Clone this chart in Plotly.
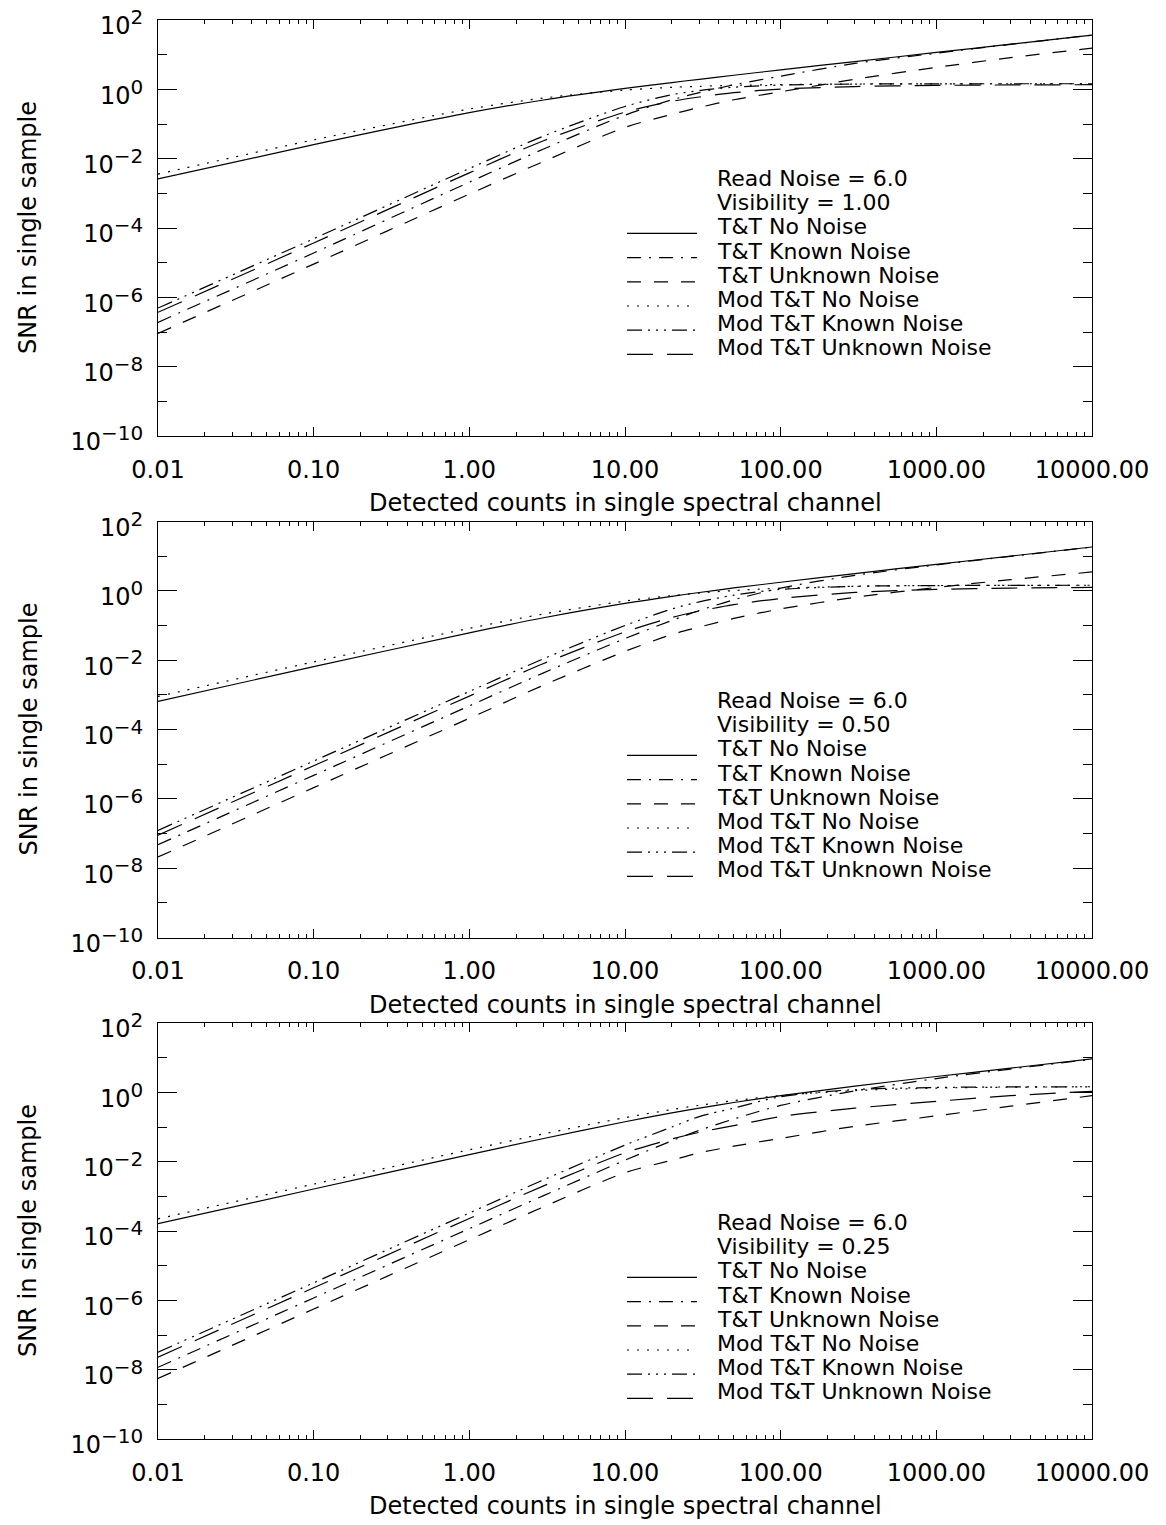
import plotly.graph_objects as go

# ---------------- data ----------------
counts = [0.01, 0.1, 1, 3, 10, 20, 30, 50, 100, 300, 1000, 3000, 10000]

series_names = ["T&T No Noise", "T&T Known Noise", "T&T Unknown Noise",
                "Mod T&T No Noise", "Mod T&T Known Noise", "Mod T&T Unknown Noise"]

read_noise_label = "Read Noise = 6.0"
visibility_labels = ["Visibility = 1.00", "Visibility = 0.50", "Visibility = 0.25"]

# Visibility = 1.00
v100_tt_no = [2.6e-3, 2.54e-2, 0.212, 0.493, 1.06, 1.57, 1.95, 2.55, 3.64, 6.34, 11.6, 20.1, 36.8]
v100_tt_known = [1.9e-7, 1.9e-5, 2.1e-3, 0.019, 0.18, 0.5, 0.8, 1.35, 2.4, 5.6, 11.0, 19.8, 36.6]
v100_tt_unknown = [9.1e-8, 9.1e-6, 9.5e-4, 8.3e-3, 0.08, 0.19, 0.3, 0.5, 0.85, 1.95, 4.3, 8.2, 15.5]
v100_mod_no = [3.6e-3, 3.48e-2, 0.27, 0.562, 0.952, 1.14, 1.22, 1.30, 1.37, 1.42, 1.44, 1.45, 1.45]
v100_mod_known = [4.9e-7, 4.9e-5, 5.2e-3, 0.045, 0.32, 0.7, 0.92, 1.15, 1.33, 1.42, 1.44, 1.45, 1.45]
v100_mod_unknown = [3.7e-7, 3.7e-5, 3.9e-3, 0.033, 0.22, 0.45, 0.6, 0.8, 1.02, 1.2, 1.3, 1.34, 1.36]

# Visibility = 0.50
v050_tt_no = [6.5e-4, 6.5e-3, 0.0613, 0.167, 0.433, 0.695, 0.894, 1.21, 1.77, 3.15, 5.8, 10.05, 18.4]
v050_tt_known = [4.75e-8, 4.75e-6, 4.8e-4, 4.3e-3, 0.042, 0.14, 0.27, 0.55, 1.2, 2.8, 5.6, 9.9, 18.3]
v050_tt_unknown = [2.1e-8, 2.1e-6, 2.1e-4, 1.9e-3, 0.018, 0.055, 0.09, 0.16, 0.3, 0.65, 1.25, 2.1, 3.5]
v050_mod_no = [9.0e-4, 8.9e-3, 0.0828, 0.215, 0.505, 0.728, 0.861, 1.02, 1.19, 1.35, 1.42, 1.44, 1.45]
v050_mod_known = [1.23e-7, 1.23e-5, 1.25e-3, 0.011, 0.1, 0.3, 0.48, 0.75, 1.1, 1.35, 1.42, 1.44, 1.45]
v050_mod_unknown = [9.0e-8, 9.0e-6, 9.2e-4, 8.0e-3, 0.065, 0.17, 0.26, 0.4, 0.6, 0.9, 1.1, 1.2, 1.25]

# Visibility = 0.25
v025_tt_no = [1.63e-4, 1.63e-3, 0.016, 0.0466, 0.142, 0.255, 0.35, 0.508, 0.80, 1.51, 2.86, 5.0, 9.18]
v025_tt_known = [1.17e-8, 1.17e-6, 1.17e-4, 1.05e-3, 0.011, 0.04, 0.08, 0.17, 0.42, 1.1, 2.5, 4.7, 9.0]
v025_tt_unknown = [5.6e-9, 5.6e-7, 5.6e-5, 5.0e-4, 4.8e-3, 0.011, 0.018, 0.028, 0.047, 0.105, 0.21, 0.4, 0.8]
v025_mod_no = [2.25e-4, 2.25e-3, 0.022, 0.0633, 0.186, 0.319, 0.422, 0.575, 0.802, 1.123, 1.329, 1.406, 1.437]
v025_mod_known = [3.2e-8, 3.2e-6, 3.3e-4, 3.0e-3, 0.03, 0.1, 0.2, 0.35, 0.75, 1.2, 1.38, 1.43, 1.45]
v025_mod_unknown = [2.3e-8, 2.3e-6, 2.3e-4, 2.0e-3, 0.018, 0.045, 0.07, 0.11, 0.2, 0.35, 0.55, 0.8, 1.07]

x_tick_vals = [0.01, 0.1, 1, 10, 100, 1000, 10000]
x_tick_text = ["0.01", "0.10", "1.00", "10.00", "100.00", "1000.00", "10000.00"]
y_tick_vals = [1e-10, 1e-8, 1e-6, 1e-4, 1e-2, 1e0, 1e2]
y_tick_exponents = ["\u221210", "\u22128", "\u22126", "\u22124", "\u22122", "0", "2"]

x_title = "Detected counts in single spectral channel"
y_title = "SNR in single sample"

# ---------------- styling / layout ----------------
W, H = 1166, 1525
FONT = "DejaVu Sans"
TICK_SIZE = 24
TEXT_SIZE = 24
LEG_SIZE = 22
dashes = ["solid", "14px,8px,2px,8px", "14px,13px", "2px,8px",
          "15px,6px,2px,6px,2px,6px,2px,6px", "26px,14px"]

y_tick_text = ["10<sup><span style='font-size:20px'>%s</span></sup>" % e
               for e in y_tick_exponents]

panels = [
    (visibility_labels[0], [v100_tt_no, v100_tt_known, v100_tt_unknown,
                            v100_mod_no, v100_mod_known, v100_mod_unknown], 20, 177),
    (visibility_labels[1], [v050_tt_no, v050_tt_known, v050_tt_unknown,
                            v050_mod_no, v050_mod_known, v050_mod_unknown], 521.5, 699),
    (visibility_labels[2], [v025_tt_no, v025_tt_known, v025_tt_unknown,
                            v025_mod_no, v025_mod_known, v025_mod_unknown], 1023, 1221),
]
PANEL_H = 416
X0, X1 = 158, 1092


def py(p):
    return 1 - p / H


def px(p):
    return p / W


fig = go.Figure()
annotations = []
shapes = []

x_minor = [k * 10 ** e for e in range(-2, 4) for k in range(2, 10)]
y_minor = [10.0 ** e for e in range(-9, 2, 2)]

for i, (vis_label, ser, top, leg_top) in enumerate(panels):
    sfx = "" if i == 0 else str(i + 1)
    xa, ya = "x" + sfx, "y" + sfx
    for name, vals, dash in zip(series_names, ser, dashes):
        fig.add_trace(go.Scatter(x=counts, y=vals, mode="lines", name=name,
                                 xaxis=xa, yaxis=ya, showlegend=False,
                                 line=dict(color="black", width=1.2, dash=dash,
                                           shape="spline", smoothing=0.8)))
    bottom = top + PANEL_H
    fig.update_layout(**{
        "xaxis" + sfx: dict(
            type="log", range=[-2, 4], domain=[px(X0), px(X1)], anchor=ya,
            automargin=False, ticklabeloverflow="allow",
            showline=True, linecolor="black", linewidth=1, mirror="ticks",
            ticks="inside", ticklen=9, tickwidth=1, tickcolor="black",
            tickvals=x_tick_vals, ticktext=x_tick_text, showgrid=False, zeroline=False,
            tickfont=dict(family=FONT, size=TICK_SIZE, color="black"), ticklabelstandoff=12,
            minor=dict(tickvals=x_minor, ticklen=4, ticks="inside", tickcolor="black",
                       tickwidth=1, showgrid=False),
        ),
        "yaxis" + sfx: dict(
            type="log", range=[-10, 2], domain=[py(bottom), py(top)], anchor=xa,
            automargin=False, ticklabeloverflow="allow",
            showline=True, linecolor="black", linewidth=1, mirror="ticks",
            ticks="inside", ticklen=19, tickwidth=1, tickcolor="black",
            tickvals=y_tick_vals, ticktext=y_tick_text, showgrid=False, zeroline=False,
            tickfont=dict(family=FONT, size=TICK_SIZE, color="black"),
            ticklabelstandoff=9, ticklabelshift=6,
            minor=dict(tickvals=y_minor, ticklen=9, ticks="inside", tickcolor="black",
                       tickwidth=1, showgrid=False),
        ),
    })
    # axis titles
    annotations.append(dict(text=x_title, x=px((X0 + X1) / 2), y=py(bottom + 67),
                            xref="paper", yref="paper", showarrow=False,
                            xanchor="center", yanchor="middle",
                            font=dict(family=FONT, size=TEXT_SIZE, color="black")))
    annotations.append(dict(text=y_title, x=px(28), y=py(top + PANEL_H / 2),
                            xref="paper", yref="paper", showarrow=False, textangle=-90,
                            xanchor="center", yanchor="middle",
                            font=dict(family=FONT, size=TEXT_SIZE, color="black")))
    # legend block
    lines = [read_noise_label, vis_label] + series_names
    for k, txt in enumerate(lines):
        yc = leg_top + 24.2 * k
        annotations.append(dict(text=txt, x=px(716), y=py(yc + 1), xref="paper", yref="paper",
                                showarrow=False, xanchor="left", yanchor="middle",
                                height=24, borderpad=0,
                                font=dict(family=FONT, size=LEG_SIZE, color="black")))
        if k >= 2:
            shapes.append(dict(type="line", xref="paper", yref="paper",
                               x0=px(627), x1=px(697), y0=py(yc + 8), y1=py(yc + 8),
                               line=dict(color="black", width=1.2, dash=dashes[k - 2])))

fig.update_layout(width=W, height=H, margin=dict(l=0, r=0, t=0, b=0, autoexpand=False),
                  template="none",
                  paper_bgcolor="white", plot_bgcolor="white",
                  showlegend=False, annotations=annotations, shapes=shapes,
                  font=dict(family=FONT, color="black"))

fig.write_html("out.html",
               config={"displayModeBar": False},
               post_script="document.body.style.margin='0px';document.body.style.overflow='hidden';")
